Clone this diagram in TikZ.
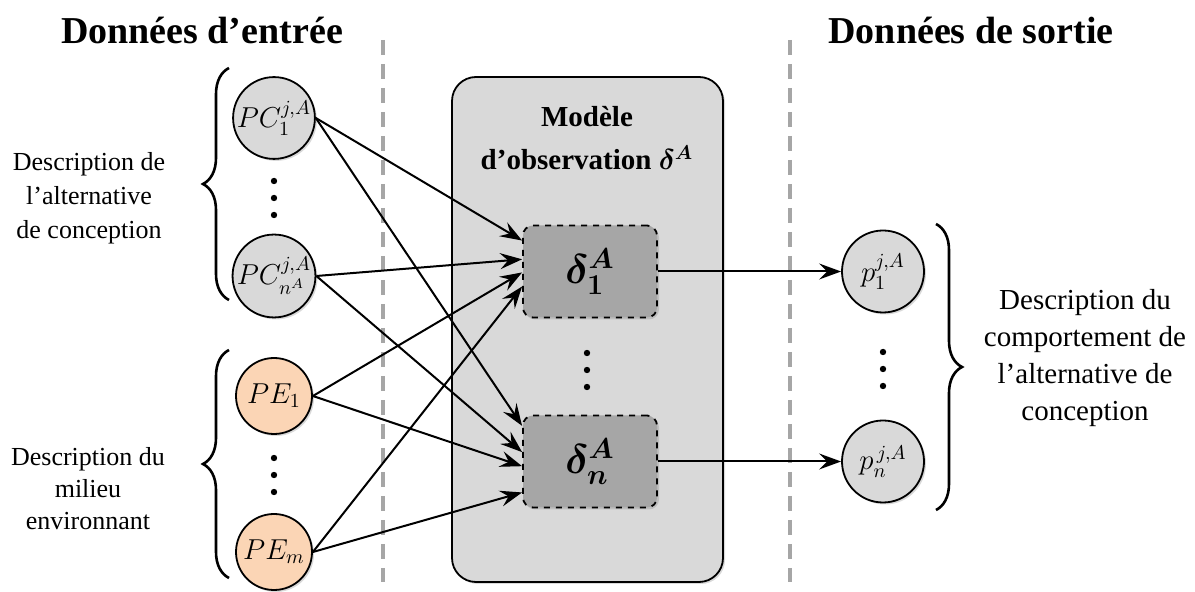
\documentclass[tikz,border=0pt]{standalone}
\usepackage{fontspec}
\setmainfont{Liberation Serif}
\usepackage{amsmath}
\usepackage{bm}
\usetikzlibrary{arrows.meta,decorations.pathreplacing,shadows,calc}
\definecolor{gris}{HTML}{D9D9D9}
\definecolor{grisfonce}{HTML}{A6A6A6}
\definecolor{peche}{HTML}{FBD5B5}
\begin{document}
\begin{tikzpicture}[x=0.5pt,y=-0.5pt,
        param/.style={circle,draw,line width=0.9pt,fill=gris,minimum size=38pt,inner sep=0pt,
            font=\fontsize{14.5}{16}\selectfont,drop shadow={opacity=0.3,shadow xshift=1pt,shadow yshift=-1pt}},
        envir/.style={param,fill=peche},
        sortie/.style={param,minimum size=41pt},
        sousmodele/.style={draw,dashed,line width=0.9pt,fill=grisfonce,rounded corners=5pt,
            minimum width=67pt,minimum height=46pt,font=\huge,drop shadow={opacity=0.3,shadow xshift=1pt,shadow yshift=-1pt}},
        fleche/.style={line width=1pt,-{Stealth[length=11pt,width=8pt,inset=4pt]}},
        accolade/.style={line width=1.3pt,decorate,decoration={brace,amplitude=13pt}},
        separation/.style={line width=2pt,grisfonce,dash pattern=on 7.5pt off 4.5pt},
        titre/.style={font=\fontsize{19}{23}\selectfont\bfseries}]
    \useasboundingbox (0,0) rectangle (1195,592);
    \node[titre] (entree) at (202,30) {Données d’entrée};
    \node[titre] (sortie) at (971,30) {Données de sortie};
    \draw[separation] (383,40) -- (383,582);
    \draw[separation] (790,40) -- (790,582);
    \node[draw,line width=0.9pt,fill=gris,rounded corners=12pt,minimum width=135.5pt,minimum height=252.5pt,
        drop shadow={opacity=0.3,shadow xshift=1pt,shadow yshift=-1pt}] (modele) at (587.5,329.5) {};
    \node[font=\fontsize{14.5}{18}\selectfont\bfseries] (nom1) at (587,117) {Modèle};
    \node[font=\fontsize{14.5}{18}\selectfont\bfseries] (nom2) at (587,158) {d’observation {\Large$\bm{\delta^A}$}};
    \node[sousmodele] (d1) at (590,271.5) {$\bm{\delta^A_1}$};
    \node[sousmodele] (dn) at (590,461.5) {$\bm{\delta^A_n}$};
    \node[param] (pc1) at (274,118) {$PC_1^{j,A}$};
    \node[param] (pcn) at (274,276) {$PC_{n^A}^{j,A}$};
    \node[envir] (pe1) at (274,396) {$PE_1$};
    \node[envir] (pem) at (274,552) {$PE_m$};
    \node[sortie] (p1) at (883,271.5) {$p_1^{j,A}$};
    \node[sortie] (pn) at (883,461.5) {$p_n^{\,j,A}$};
    \foreach \x/\y in {274/198,274/475,587/370,883/369}
        \foreach \d in {-17,0,17}
            \fill (\x,\y+\d) circle (1.6pt);
    \draw[fleche] (pc1.east) -- ($(d1.north west)!.17!(d1.south west)$);
    \draw[fleche] (pc1.east) -- ($(dn.north west)!.12!(dn.south west)$);
    \draw[fleche] (pcn.east) -- ($(d1.north west)!.37!(d1.south west)$);
    \draw[fleche] (pcn.east) -- ($(dn.north west)!.40!(dn.south west)$);
    \draw[fleche] (pe1.east) -- ($(d1.north west)!.51!(d1.south west)$);
    \draw[fleche] (pe1.east) -- ($(dn.north west)!.55!(dn.south west)$);
    \draw[fleche] (pem.east) -- ($(d1.north west)!.66!(d1.south west)$);
    \draw[fleche] (pem.east) -- ($(dn.north west)!.83!(dn.south west)$);
    \draw[fleche] (d1) -- (p1);
    \draw[fleche] (dn) -- (pn);
    \draw[accolade] (229,300) -- (229,68);
    \draw[accolade] (229,578) -- (229,350);
    \draw[accolade] (936,224) -- (936,510);
    \node[align=center,font=\fontsize{13}{17}\selectfont] (desc1) at (89,198) {Description de\\l’alternative\\de conception};
    \node[align=center,font=\fontsize{13}{16}\selectfont] (desc2) at (88,489) {Description du\\milieu\\environnant};
    \node[align=center,font=\fontsize{14.5}{18.5}\selectfont] (desc3) at (1085,358) {Description du\\comportement de\\l’alternative de\\conception};
\end{tikzpicture}
\end{document}
